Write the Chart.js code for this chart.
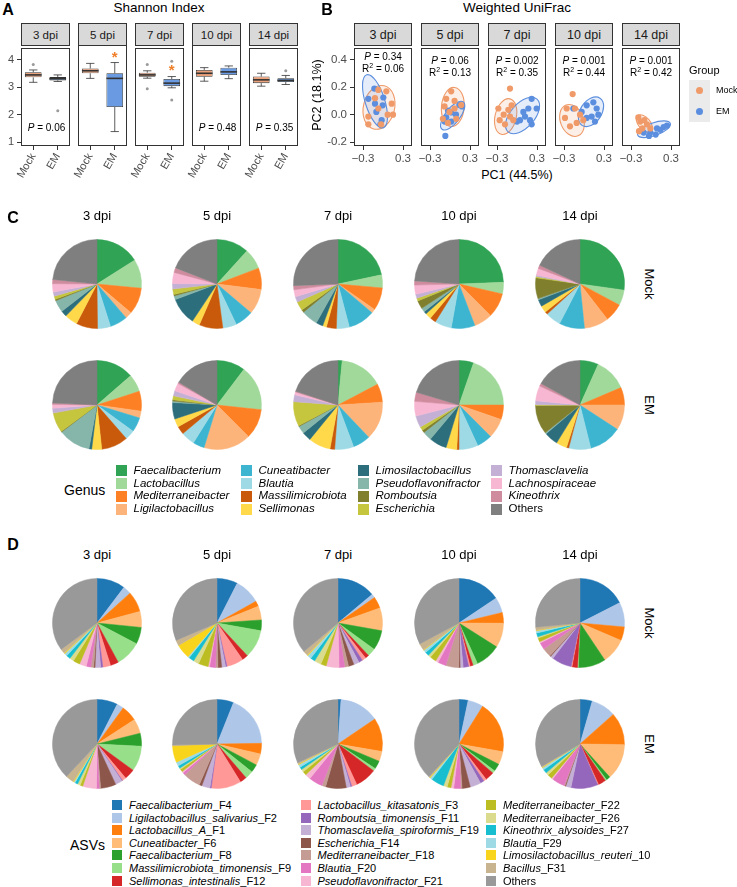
<!DOCTYPE html>
<html>
<head>
<meta charset="utf-8">
<title>Gut microbiota after EM infection</title>
<script src="https://cdn.jsdelivr.net/npm/chart.js@4.4.0/dist/chart.umd.min.js"></script>
<style>
  html, body { margin: 0; background: #fff; }
  #page { position: relative; width: 737px; height: 887px; overflow: hidden; font-family: "Liberation Sans", Arial, sans-serif; color: #000; }
  #page canvas { position: absolute; }
  .t { position: absolute; white-space: nowrap; line-height: 1; transform: translate(-50%, -50%); }
  .tl { position: absolute; white-space: nowrap; line-height: 1; transform: translate(0, -50%); }
  .strip { position: absolute; box-sizing: border-box; background: #d9d9d9; border: 1px solid #333; display: flex; align-items: center; justify-content: center; color: #1a1a1a; }
  .key { position: absolute; }
  .bold { font-weight: bold; }
</style>
</head>
<body>
<div id="page"></div>
<script>
const dpi = ['3 dpi', '5 dpi', '7 dpi', '10 dpi', '14 dpi'];
const groups = ['Mock', 'EM'];

// A - Shannon index, boxplot stats: [lower whisker, Q1, median, Q3, upper whisker]
const shannonMock = [
  [3.18, 3.36, 3.45, 3.55, 3.63],
  [3.25, 3.43, 3.52, 3.60, 3.78],
  [3.33, 3.38, 3.45, 3.53, 3.60],
  [3.15, 3.31, 3.43, 3.55, 3.63],
  [3.04, 3.15, 3.27, 3.39, 3.51]
];
const shannonEM = [
  [3.21, 3.25, 3.31, 3.37, 3.45],
  [1.37, 2.24, 3.25, 3.43, 3.81],
  [2.98, 3.04, 3.15, 3.30, 3.39],
  [3.24, 3.37, 3.48, 3.63, 3.69],
  [3.10, 3.19, 3.25, 3.33, 3.43]
];
const outliersMock = [[3.83], [], [3.83, 2.95], [], []];
const outliersEM = [[2.14], [], [3.95, 2.54], [], [3.60]];
const starsEM = [null, 4.07, 3.71, null, null];
const shannonP = ['0.06', null, null, '0.48', '0.35'];

// B - weighted UniFrac PCoA (PC1, PC2)
const pcoaMock = [
  [[-0.07,0.18],[0.05,0.17],[-0.12,0.12],[0.13,0.08],[-0.07,0.045],[-0.22,-0.014],[0.07,0.0],[0.15,0.0],[-0.03,-0.07],[-0.22,-0.07]],
  [[0.018,0.17],[-0.057,0.115],[0.068,0.1],[-0.082,0.06],[0.068,0.045],[-0.007,0.02],[-0.107,-0.03],[0.093,-0.03],[-0.032,-0.06],[0.168,0.07]],
  [[-0.105,0.19],[-0.28,0.045],[-0.2,0.0],[-0.13,0.035],[-0.105,-0.014],[-0.055,-0.04],[-0.18,-0.07],[-0.26,-0.04],[-0.08,0.068]],
  [[-0.17,0.15],[-0.26,0.045],[-0.285,-0.024],[-0.21,-0.085],[-0.11,-0.06],[-0.06,0.0],[-0.135,0.045],[-0.01,-0.04]],
  [[-0.19,-0.02],[-0.16,-0.05],[-0.1,-0.04],[-0.06,-0.07],[-0.13,-0.1],[-0.01,-0.1],[-0.18,-0.12]]
];
const pcoaEM = [
  [[-0.13,0.19],[-0.22,0.115],[0.005,0.125],[-0.12,0.08],[-0.005,0.068],[-0.02,-0.04],[-0.04,-0.07],[-0.1,0.02]],
  [[-0.03,0.03],[0.02,0.016],[0.18,0.06],[0.09,0.0],[-0.057,-0.02],[0.02,-0.05],[-0.08,-0.05],[-0.07,-0.155],[0.14,0.07]],
  [[0.045,-0.04],[0.12,-0.014],[0.195,-0.04],[0.17,0.045],[0.22,0.115],[0.295,0.045],[0.22,-0.07],[0.095,0.02],[0.0,-0.05]],
  [[-0.16,0.045],[0.04,0.068],[0.14,0.09],[0.19,0.045],[0.215,0.0],[0.115,-0.014],[0.04,-0.024],[-0.035,0.02],[0.165,-0.05]],
  [[-0.11,-0.13],[-0.01,-0.13],[0.09,-0.1],[0.19,-0.09],[0.24,-0.08],[0.07,-0.145],[-0.03,-0.155],[0.14,-0.11]]
];
// confidence ellipses: [centre PC1, centre PC2, major-axis end PC1, major-axis end PC2, minor/major]
const ellipseMock = [
  [-0.06, 0.053, 0.02, 0.21, 0.7],
  [0.042, 0.056, 0.067, 0.198, 0.58],
  [-0.17, -0.014, -0.105, 0.115, 0.58],
  [-0.18, -0.042, -0.27, 0.07, 0.7],
  [-0.1, -0.064, -0.2, -0.007, 0.58]
];
const ellipseEM = [
  [-0.12, 0.097, -0.245, 0.29, 0.35],
  [0.04, -0.007, 0.2, 0.092, 0.42],
  [0.083, -0.006, 0.3, 0.113, 0.55],
  [0.105, 0.021, 0.24, 0.12, 0.65],
  [0.045, -0.106, 0.29, -0.064, 0.37]
];
const permP = ['0.34', '0.06', '0.002', '0.001', '0.001'];
const permR2 = ['0.06', '0.13', '0.35', '0.44', '0.42'];

// C - genus composition (%)
const genusNames = ['Faecalibacterium','Lactobacillus','Mediterraneibacter','Ligilactobacillus','Cuneatibacter','Blautia',
  'Massilimicrobiota','Sellimonas','Limosilactobacillus','Pseudoflavonifractor','Romboutsia','Escherichia',
  'Thomasclavelia','Lachnospiraceae','Kineothrix','Others'];
const genusColors = ['#31A354','#A1D99B','#FD8025','#FDB47A','#3DB5D0','#9EDAE5','#C95A0C','#FFD94A',
  '#2D6E7C','#86B5AA','#7F7F2E','#C5C53E','#C5B0D5','#F7B6D2','#D08C9F','#7F7F7F'];
const genusMock = [
  [16, 10.5, 9.7, 2.5, 6.4, 4.7, 7.8, 4.7, 2.2, 4.4, 0.5, 1.2, 1.5, 3, 1.5, 23.4],
  [11.7, 7.5, 7.8, 9.2, 6.7, 5, 8.6, 2.8, 10, 1.4, 0.5, 2, 2, 4, 1.7, 19.1],
  [21.7, 4.7, 8.3, 1.5, 9.7, 4.7, 3.6, 1.4, 2.5, 6, 1, 3.3, 2, 2.5, 1.5, 25.6],
  [24.4, 4.2, 8.9, 6.7, 8.6, 6.1, 2.2, 2.2, 1, 1.5, 3, 1, 1.5, 3.3, 1.5, 23.9],
  [27.2, 5.6, 6.7, 8.9, 9.2, 5.6, 1, 2.5, 2.5, 0.5, 7.5, 0.5, 0.5, 2.5, 1.2, 18.1]
];
const genusEM = [
  [13.6, 6.4, 7.2, 2.5, 5.3, 3.6, 9.7, 3.6, 1, 11.7, 0.3, 7.2, 1.7, 1.4, 0.5, 24.3],
  [10.3, 16.4, 10.8, 17.2, 4.2, 5, 3, 3, 6, 0.5, 0.5, 1.4, 1.9, 2.8, 0.5, 16.5],
  [1.5, 15.8, 6.7, 13.9, 6.4, 6.9, 1.7, 8, 3.3, 2.8, 0.3, 8.9, 2.5, 1, 0.3, 20],
  [5.3, 19.7, 5.3, 7.2, 5.6, 6.9, 0.8, 3.9, 6.4, 3.3, 1, 1.4, 4.2, 5.3, 3.3, 20.4],
  [6.7, 11.9, 6.4, 9.2, 11.9, 8, 0.8, 3.9, 5, 0.5, 10.5, 0.3, 1.4, 5.5, 1, 17]
];

// D - ASV composition (%)
const asvNames = ['Faecalibacterium_F4','Ligilactobacillus_salivarius_F2','Lactobacillus_A_F1','Cuneatibacter_F6',
  'Faecalibacterium_F8','Massilimicrobiota_timonensis_F9','Sellimonas_intestinalis_F12','Lactobacillus_kitasatonis_F3',
  'Romboutsia_timonensis_F11','Thomasclavelia_spiroformis_F19','Escherichia_F14','Mediterraneibacter_F18','Blautia_F20',
  'Pseudoflavonifractor_F21','Mediterraneibacter_F22','Mediterraneibacter_F26','Kineothrix_alysoides_F27','Blautia_F29',
  'Limosilactobacillus_reuteri_10','Bacillus_F31','Others'];
const asvColors = ['#1F77B4','#AEC7E8','#FF7F0E','#FFBB78','#2CA02C','#98DF8A','#D62728','#FF9896','#9467BD','#C5B0D5',
  '#8C564B','#C49C94','#E377C2','#F7B6D2','#BCBD22','#DBDB8D','#17BECF','#9EDAE5','#F8D41C','#C8B48E','#999999'];
const asvMock = [
  [10.3, 3, 7.5, 5.8, 6.1, 9.4, 3, 2.8, 0.8, 2, 0.5, 1, 1.7, 2.5, 2.5, 1.5, 1.5, 1, 0.3, 1.7, 35.1],
  [7.5, 9.4, 2, 5, 3.9, 10.3, 2.2, 6.1, 0.5, 1.4, 1.4, 0.8, 2.2, 0.5, 3.6, 2, 2, 0.5, 5.3, 2, 31.4],
  [13.9, 1.4, 4.2, 8.3, 7.2, 3, 1.4, 1.4, 1.4, 2, 2, 1.4, 2, 4.7, 2, 2.5, 1.7, 1.4, 0.3, 1.7, 36.1],
  [15.6, 5.6, 3.9, 8.9, 9.2, 1.7, 1.1, 0.5, 2, 1.1, 0.5, 4.7, 3, 1, 2.3, 1, 1.4, 1, 0.2, 2.5, 32.8],
  [17.5, 8.9, 5, 9.2, 10, 0.3, 2, 0.3, 7.2, 1.1, 0.3, 3.3, 2.5, 0.5, 1.4, 0.5, 1.4, 0.8, 0.2, 1.1, 26.5]
];
const asvEM = [
  [7.5, 2.5, 5.8, 5.3, 4.7, 9.2, 3.9, 1.4, 0.3, 2.5, 5.6, 0.5, 1, 5, 1, 1, 1, 0.5, 0.3, 3, 38],
  [6.1, 18.9, 3.9, 4.2, 3, 3, 2.5, 11, 0.5, 3, 1, 6.4, 1, 0.5, 1, 0.5, 1, 1.5, 6.1, 0.3, 25.6],
  [1.1, 14.4, 12.2, 3.6, 3, 1, 7.8, 1.9, 0.5, 1.5, 7.5, 1.4, 5, 2, 1.4, 1, 1, 1, 0.3, 0.5, 31.9],
  [3.3, 5.6, 18.9, 4.7, 2.8, 1, 3.3, 1, 1.4, 3.9, 3, 0.5, 2.5, 1, 1.4, 1.4, 4.7, 0.8, 0.3, 0.3, 38.2],
  [4.4, 8.9, 11.7, 13, 1.5, 0.5, 2.8, 0.3, 9.7, 1.9, 0.3, 0.3, 4.7, 0.5, 1.7, 1, 1.4, 0.8, 0.3, 0.3, 33.1]
];

const mockBox = '#EBA17A', emBox = '#6A9BE2';
const mockCol = '#EF9A68', emCol = '#5B8EDE';
const mockFill = 'rgba(239,154,104,0.16)', emFill = 'rgba(91,142,222,0.16)';
const axisText = '#4d4d4d';

Chart.defaults.font.family = '"Liberation Sans", Arial, sans-serif';
Chart.defaults.animation = false;
Chart.defaults.responsive = false;
Chart.defaults.events = [];
Chart.defaults.plugins.legend.display = false;
Chart.defaults.plugins.tooltip.enabled = false;

const page = document.getElementById('page');

function text(html, x, y, size, cls, extra) {
  const d = document.createElement('div');
  d.className = cls || 't';
  d.innerHTML = html;
  d.style.left = x + 'px';
  d.style.top = y + 'px';
  d.style.fontSize = size + 'px';
  if (extra) Object.assign(d.style, extra);
  page.appendChild(d);
  return d;
}

function canvasAt(x, y, w, h) {
  const c = document.createElement('canvas');
  c.width = w;
  c.height = h;
  c.style.left = x + 'px';
  c.style.top = y + 'px';
  page.appendChild(c);
  return c;
}

function strip(label, x, y, w, h, size) {
  const d = document.createElement('div');
  d.className = 'strip';
  d.textContent = label;
  Object.assign(d.style, { left: x + 'px', top: y + 'px', width: w + 'px', height: h + 'px', fontSize: size + 'px' });
  page.appendChild(d);
}

function panelBorder(chart) {
  const { ctx, chartArea: a } = chart;
  ctx.save();
  ctx.strokeStyle = '#333';
  ctx.lineWidth = 1;
  ctx.strokeRect(a.left + 0.5, a.top + 0.5, a.width - 1, a.height - 1);
  ctx.restore();
}

// ---------- A: Shannon index ----------
text('A', 8, 10, 16, 't bold');
text('Shannon Index', 159, 8, 13.5);

const aLeft = [21, 78, 135, 192, 249], aW = 49, aTop = 45, aH = 101;
const aPadL = 24, aPadR = 10, aAxisH = 44;

function boxPlugin(i) {
  const stats = [shannonMock[i], shannonEM[i]];
  return {
    id: 'box' + i,
    beforeDatasetsDraw(chart) {
      const { ctx, scales: { x, y } } = chart;
      const bars = chart.getDatasetMeta(0).data;
      ctx.save();
      ctx.strokeStyle = '#333';
      ctx.lineWidth = 0.8;
      stats.forEach((s, g) => {
        const px = x.getPixelForValue(g), cw = bars[g].width / 4;
        ctx.beginPath();
        ctx.moveTo(px, y.getPixelForValue(s[0])); ctx.lineTo(px, y.getPixelForValue(s[1]));
        ctx.moveTo(px, y.getPixelForValue(s[3])); ctx.lineTo(px, y.getPixelForValue(s[4]));
        ctx.moveTo(px - cw, y.getPixelForValue(s[0])); ctx.lineTo(px + cw, y.getPixelForValue(s[0]));
        ctx.moveTo(px - cw, y.getPixelForValue(s[4])); ctx.lineTo(px + cw, y.getPixelForValue(s[4]));
        ctx.stroke();
      });
      ctx.restore();
    },
    afterDatasetsDraw(chart) {
      const { ctx, scales: { x, y } } = chart;
      const bars = chart.getDatasetMeta(0).data;
      ctx.save();
      ctx.strokeStyle = '#333';
      ctx.lineWidth = 1.6;
      stats.forEach((s, g) => {
        const px = x.getPixelForValue(g), hw = bars[g].width / 2;
        ctx.beginPath();
        ctx.moveTo(px - hw, y.getPixelForValue(s[2]));
        ctx.lineTo(px + hw, y.getPixelForValue(s[2]));
        ctx.stroke();
      });
      if (starsEM[i] !== null) {
        ctx.fillStyle = '#F07F2A';
        ctx.font = 'bold 15px "Liberation Sans", Arial, sans-serif';
        ctx.textAlign = 'center';
        ctx.textBaseline = 'middle';
        ctx.fillText('*', x.getPixelForValue(1), y.getPixelForValue(starsEM[i]) + 3);
      }
      ctx.restore();
      panelBorder(chart);
    }
  };
}

dpi.forEach((d, i) => {
  strip(d, aLeft[i], 23, aW, 23, 11.5);
  const cv = canvasAt(aLeft[i] - aPadL, aTop - 1, aPadL + aW + aPadR, 1 + aH + aAxisH);
  const outl = [];
  outliersMock[i].forEach(v => outl.push({ x: 'Mock', y: v }));
  outliersEM[i].forEach(v => outl.push({ x: 'EM', y: v }));
  new Chart(cv, {
    type: 'bar',
    data: {
      labels: groups,
      datasets: [
        {
          data: [[shannonMock[i][1], shannonMock[i][3]], [shannonEM[i][1], shannonEM[i][3]]],
          backgroundColor: [mockBox, emBox],
          borderColor: '#333',
          borderWidth: 0.8,
          borderSkipped: false,
          barPercentage: 0.68,
          categoryPercentage: 1,
          order: 2
        },
        { type: 'scatter', data: outl, pointRadius: 1.5, backgroundColor: '#9a9a9a', borderWidth: 0, order: 1 }
      ]
    },
    options: {
      layout: { padding: { top: 1, left: 0, right: aPadR, bottom: 0 } },
      scales: {
        x: {
          grid: { drawOnChartArea: false, offset: false, tickLength: 4, color: '#333' },
          border: { display: false },
          ticks: { minRotation: 60, maxRotation: 60, autoSkip: false, font: { size: 11 }, color: axisText, padding: 1 },
          afterFit: s => { s.height = aAxisH; s.paddingLeft = 0; s.paddingRight = 0; }
        },
        y: {
          display: i === 0,
          min: 0.86, max: 4.43,
          afterBuildTicks: s => { s.ticks = [1, 2, 3, 4].map(v => ({ value: v })); },
          grid: { drawOnChartArea: false, tickLength: 4, color: '#333' },
          border: { display: false },
          ticks: { font: { size: 11 }, color: axisText, padding: 3 },
          afterFit: s => { s.width = aPadL; s.paddingTop = 0; s.paddingBottom = 0; }
        }
      }
    },
    plugins: [boxPlugin(i)]
  });
  if (shannonP[i]) text('<i>P</i> = ' + shannonP[i], aLeft[i] + aW / 2 + 1, 128, 10);
});

// ---------- B: weighted UniFrac ----------
text('B', 327, 10, 16, 't bold');
text('Weighted UniFrac', 517, 8, 13.5);
text('PC2 (18.1%)', 317, 95, 12.5, 't', { transform: 'translate(-50%,-50%) rotate(-90deg)' });
text('PC1 (44.5%)', 517, 175, 12.5);

const bLeft = [354, 421, 488, 555, 622], bW = 58, bTop = 45, bH = 101;
const bPadL = 44, bPadR = 14, bAxisH = 30;
const bTextY = [57, 61, 61, 61, 61];

function ellipsePlugin(i) {
  return {
    id: 'ell' + i,
    beforeDatasetsDraw(chart) {
      const { ctx, scales: { x, y } } = chart;
      [[ellipseMock[i], mockFill, mockCol], [ellipseEM[i], emFill, emCol]].forEach(([e, fill, line]) => {
        const cx = x.getPixelForValue(e[0]), cy = y.getPixelForValue(e[1]);
        const ex = x.getPixelForValue(e[2]), ey = y.getPixelForValue(e[3]);
        const a = Math.hypot(ex - cx, ey - cy), ang = Math.atan2(ey - cy, ex - cx);
        ctx.save();
        ctx.beginPath();
        ctx.ellipse(cx, cy, a, a * e[4], ang, 0, 2 * Math.PI);
        ctx.fillStyle = fill;
        ctx.fill();
        ctx.strokeStyle = line;
        ctx.lineWidth = 1.1;
        ctx.stroke();
        ctx.restore();
      });
    },
    afterDatasetsDraw: panelBorder
  };
}

dpi.forEach((d, i) => {
  strip(d, bLeft[i], 23, bW, 23, 12.5);
  const cv = canvasAt(bLeft[i] - bPadL, bTop - 1, bPadL + bW + bPadR, 1 + bH + bAxisH);
  new Chart(cv, {
    type: 'scatter',
    data: {
      datasets: [
        { data: pcoaMock[i].map(p => ({ x: p[0], y: p[1] })), backgroundColor: mockCol, borderWidth: 0, pointRadius: 3.1 },
        { data: pcoaEM[i].map(p => ({ x: p[0], y: p[1] })), backgroundColor: emCol, borderWidth: 0, pointRadius: 3.1 }
      ]
    },
    options: {
      layout: { padding: { top: 1, left: 0, right: bPadR, bottom: 0 } },
      scales: {
        x: {
          type: 'linear', min: -0.435, max: 0.435,
          afterBuildTicks: s => { s.ticks = [-0.3, 0.3].map(v => ({ value: v })); },
          grid: { drawOnChartArea: false, tickLength: 4, color: '#333' },
          border: { display: false },
          ticks: { autoSkip: false, maxRotation: 0, font: { size: 11.5 }, color: axisText, padding: 2,
            callback: v => (v < 0 ? '\u2212' : '') + Math.abs(v).toFixed(1) },
          afterFit: s => { s.height = bAxisH; s.paddingLeft = 0; s.paddingRight = 0; }
        },
        y: {
          type: 'linear', display: i === 0, min: -0.228, max: 0.485,
          afterBuildTicks: s => { s.ticks = [-0.2, 0, 0.2, 0.4].map(v => ({ value: v })); },
          grid: { drawOnChartArea: false, tickLength: 4, color: '#333' },
          border: { display: false },
          ticks: { font: { size: 11.5 }, color: axisText, padding: 3, callback: v => v.toFixed(1) },
          afterFit: s => { s.width = bPadL; s.paddingTop = 0; s.paddingBottom = 0; }
        }
      }
    },
    plugins: [ellipsePlugin(i)]
  });
  text('<i>P</i> = ' + permP[i], bLeft[i] + bW / 2, bTextY[i], 10);
  text('R<sup style="font-size:7px">2</sup> = ' + permR2[i], bLeft[i] + bW / 2, bTextY[i] + 11, 10);
});

// group legend
text('Group', 689, 70, 11, 'tl');
const keyBg = document.createElement('div');
Object.assign(keyBg.style, { position: 'absolute', left: '689px', top: '80px', width: '21px', height: '42px', background: '#ebebeb' });
page.appendChild(keyBg);
[[groups[0], mockCol, 90], [groups[1], emCol, 111]].forEach(([g, c, y]) => {
  const dot = document.createElement('div');
  Object.assign(dot.style, { position: 'absolute', left: '696px', top: (y - 3.5) + 'px', width: '7px', height: '7px', borderRadius: '50%', background: c });
  page.appendChild(dot);
  text(g, 716, y, 9, 'tl');
});

// ---------- C & D: pies ----------
const pieX = [97, 217, 338, 459, 580];

function pie(cx, cy, labels, values, colors) {
  const s = 96;
  const cv = canvasAt(cx - s / 2, cy - s / 2, s, s);
  new Chart(cv, {
    type: 'pie',
    data: { labels: labels, datasets: [{ data: values, backgroundColor: colors, borderColor: colors, borderWidth: 0.5 }] },
    options: { radius: 44.5, layout: { padding: 0 } }
  });
}

text('C', 13, 218, 16, 't bold');
text('D', 13, 545, 16, 't bold');
dpi.forEach((d, i) => {
  text(d, pieX[i], 215, 13);
  pie(pieX[i], 284, genusNames, genusMock[i], genusColors);
  pie(pieX[i], 405, genusNames, genusEM[i], genusColors);
  text(d, pieX[i], 554, 13);
  pie(pieX[i], 623, asvNames, asvMock[i], asvColors);
  pie(pieX[i], 744, asvNames, asvEM[i], asvColors);
});
[[groups[0], 284], [groups[1], 405], [groups[0], 623], [groups[1], 744]].forEach(([g, y]) => {
  text(g, 649, y, 13, 't', { transform: 'translate(-50%,-50%) rotate(90deg)' });
});

// legends
function legend(names, colors, colX, y0, step, perCol, keySize, fontSize, fmt) {
  names.forEach((n, k) => {
    const c = Math.floor(k / perCol), r = k % perCol;
    const y = y0 + r * step;
    const key = document.createElement('div');
    key.className = 'key';
    Object.assign(key.style, { left: colX[c] + 'px', top: (y - keySize / 2) + 'px', width: keySize + 'px', height: keySize + 'px', background: colors[k] });
    page.appendChild(key);
    text(fmt(n), colX[c] + keySize + 7, y, fontSize, 'tl');
  });
}

text('Genus', 64, 490, 14, 'tl');
legend(genusNames, genusColors, [115.5, 240.5, 357.5, 490.5], 470.7, 12.8, 4, 11, 11.5,
  n => n === 'Others' ? n : '<i>' + n + '</i>');

text('ASVs', 70, 845, 14, 'tl');
legend(asvNames, asvColors, [112, 300.5, 486], 805, 12.6, 7, 10, 11,
  n => {
    if (n === 'Others') return n;
    const cut = n.lastIndexOf('_');
    return '<i>' + n.slice(0, cut) + '</i>' + n.slice(cut);
  });
</script>
</body>
</html>
